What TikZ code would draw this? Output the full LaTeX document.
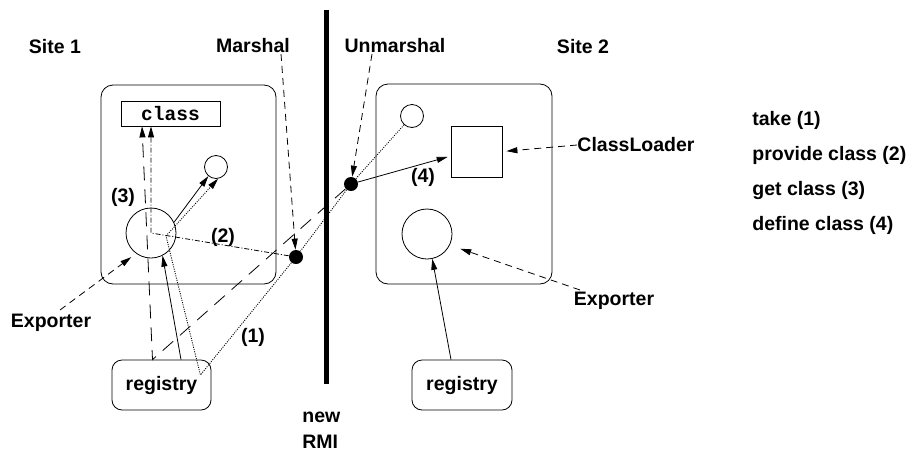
\documentclass[tikz,border=0pt]{standalone}
\usepackage{fontspec}
\setmainfont{Liberation Sans}
\setmonofont{Liberation Mono}
\usetikzlibrary{arrows.meta,calc}
\begin{document}
\begin{tikzpicture}[x=1pt,y=-1pt,
  font=\fontsize{19.5}{22}\selectfont\bfseries,
  line width=0.8pt,
  site/.style={draw, rounded corners=12pt, inner sep=0pt},
  regbox/.style={draw, rounded corners=10pt, minimum width=99pt, minimum height=50pt, inner sep=0pt},
  obj/.style={draw, circle, inner sep=0pt},
  dot/.style={circle, fill=black, inner sep=0pt, minimum size=14pt},
  lbl/.style={inner sep=0pt},
  tip/.style={-{Triangle[length=11pt,width=6pt]}},
  take/.style={line width=0.9pt, dash pattern=on 1pt off 1.3pt},
  provide/.style={dash pattern=on 5pt off 2pt on 1pt off 2pt},
  getcls/.style={dash pattern=on 14pt off 9pt},
  pointer/.style={dash pattern=on 7pt off 5pt},
]
\useasboundingbox (0,0) rectangle (912,453);

% the two sites
\node[site, minimum width=175pt, minimum height=199pt] (site1) at (188.5,184.5) {};
\node[site, minimum width=176pt, minimum height=200pt] (site2) at (464,184) {};

% network boundary
\coordinate (bartop) at (326,10);
\coordinate (barbot) at (326,384);
\draw[line width=5pt] (bartop) -- (barbot);

% site 1 contents
\node[draw, minimum width=99pt, minimum height=25pt, inner sep=0pt] (classbox) at (170.5,113.5) {\ttfamily class};
\node[obj, minimum size=23pt] (s1small) at (216,167) {};
\node[obj, minimum size=50pt] (s1big) at (151,233) {};
\node[regbox] (reg1) at (161.5,385) {registry};

% site 2 contents
\node[obj, minimum size=23pt] (s2small) at (412,116) {};
\node[draw, minimum size=51pt, inner sep=0pt] (sq) at (476.5,151.5) {};
\node[obj, minimum size=50pt] (s2big) at (427,234) {};
\node[regbox, minimum width=100pt] (reg2) at (462,385) {registry};

% marshalling points
\node[dot] (mdot) at (296,257) {};
\node[dot] (udot) at (351,184) {};

% labels
\node[lbl] (site1lab) at (55,47) {Site 1};
\node[lbl] (site2lab) at (583,47) {Site 2};
\node[lbl] (mlab) at (253,46) {Marshal};
\node[lbl] (ulab) at (395,46) {Unmarshal};
\node[lbl] (cload) at (636,145) {ClassLoader};
\node[lbl] (exp1) at (51,323) {Exporter};
\node[lbl] (exp2) at (614,301) {Exporter};
\node[lbl, anchor=west] (newlab) at (302,417) {new};
\node[lbl, anchor=west] (rmilab) at (302,442) {RMI};
\node[lbl] (n1) at (253,337) {(1)};
\node[lbl] (n2) at (223,237) {(2)};
\node[lbl] (n3) at (123,197) {(3)};
\node[lbl] (n4) at (423,177) {(4)};

% legend
\node[lbl, anchor=west] (leg1) at (752,120) {take (1)};
\node[lbl, anchor=west] (leg2) at (752,155) {provide class (2)};
\node[lbl, anchor=west] (leg3) at (752,190) {get class (3)};
\node[lbl, anchor=west] (leg4) at (752,225) {define class (4)};

% bend points
\coordinate (rtake) at ($(reg1.east)+(-11,-10)$);
\coordinate (ctake) at ($(s1big.center)+(15,3)$);
\coordinate (rget) at ($(reg1.north)+(-9,0)$);

% registry lookups
\draw[tip] ($(reg1.north)+(19.5,0)$) -- (s1big.-63);
\draw[tip] ($(reg2.north)+(-11,0)$) -- (s2big.-78);

% exporter to stub in site 1
\draw[tip] (s1big.25) -- (s1small.-130);

% (1) take
\draw[take, tip] (s2small) -- (udot) -- (mdot) -- (rtake) -- (ctake) -- (s1small.-80);

% (2) provide class
\draw[provide, tip] (mdot) -- (s1big.center) -- ($(classbox.south)+(-19.5,0)$);

% (3) get class
\draw[getcls, tip] (udot) -- (rget) -- ($(classbox.south)+(-28.5,0)$);

% (4) define class
\draw[tip, shorten >=3pt] (udot) -- (sq.-170);

% callouts
\draw[pointer, tip] ($(mlab.center)+(28,8)$) -- (mdot);
\draw[pointer, tip] ($(ulab.center)+(-23,8)$) -- (udot);
\draw[pointer, tip, shorten >=4pt] (cload.west) -- (sq.east);
\draw[pointer, tip, shorten >=11pt] ($(exp2.center)+(-34,-11)$) -- (s2big.-26);
\draw[pointer, tip, shorten >=6pt] ($(exp1.center)+(9,-13)$) -- (s1big.-126);
\end{tikzpicture}
\end{document}
